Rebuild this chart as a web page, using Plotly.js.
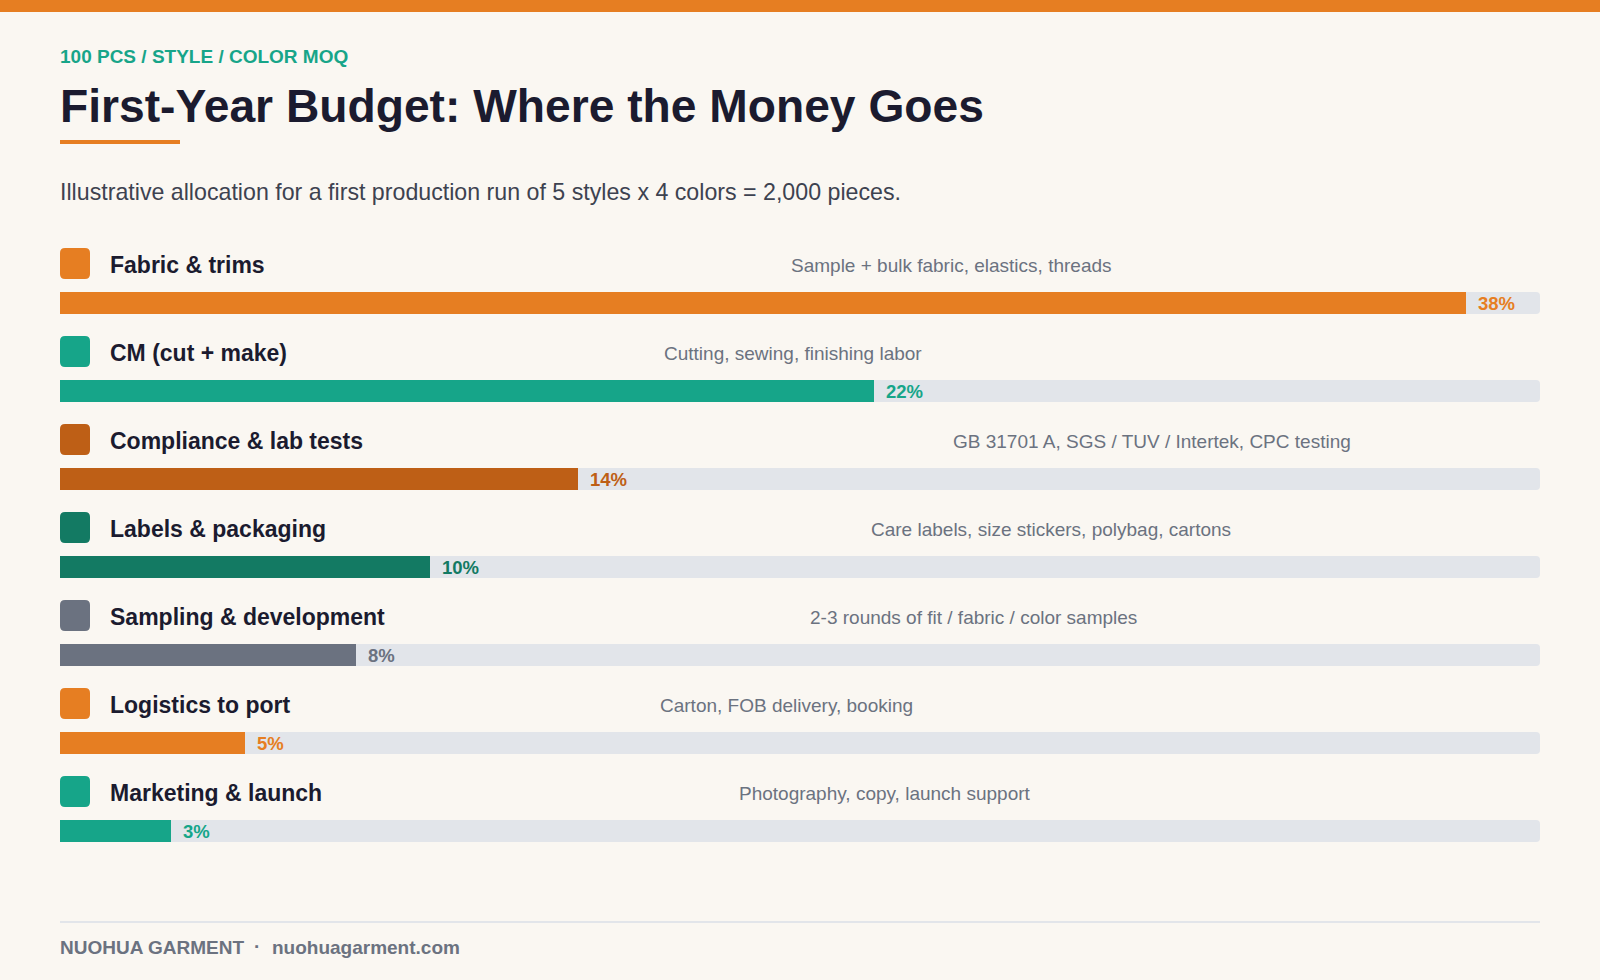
<!DOCTYPE html>
<html>
<head>
<meta charset="utf-8">
<script src="https://cdn.plot.ly/plotly-3.0.1.min.js"></script>
<style>
  html, body { margin: 0; padding: 0; background: #FAF7F2; }
  #chart { width: 1600px; height: 980px; }
</style>
</head>
<body>
<div id="chart"></div>
<script>
// Budget categories and their share of the first-year spend (%)
const categories = [
  'Fabric & trims',
  'CM (cut + make)',
  'Compliance & lab tests',
  'Labels & packaging',
  'Sampling & development',
  'Logistics to port',
  'Marketing & launch'
];
const shares = [38, 22, 14, 10, 8, 5, 3];
const notes = [
  'Sample + bulk fabric, elastics, threads',
  'Cutting, sewing, finishing labor',
  'GB 31701 A, SGS / TUV / Intertek, CPC testing',
  'Care labels, size stickers, polybag, cartons',
  '2-3 rounds of fit / fabric / color samples',
  'Carton, FOB delivery, booking',
  'Photography, copy, launch support'
];
const scaleMax = 40;

// Presentation settings
const barColors = ['#E67E22', '#16A589', '#BE5F16', '#137A63', '#6B7280', '#E67E22', '#16A589'];
const noteCenters = [952, 793, 1152, 1051, 973, 786, 885]; // px across the page
const W = 1600, H = 980;
const LEFT = 60, RIGHT = 1540;
const ROW0 = 303, ROW_STEP = 88;     // px: first bar centre and row pitch
const BAR_PX = 22;
const TXT_X = 58;                    // left edge of left-aligned text

const FONT = 'Liberation Sans, Arial, Helvetica, sans-serif';
const px2x = px => (px - LEFT) / (RIGHT - LEFT);   // page px -> paper x
const py2y = py => 1 - py / H;                      // page px -> paper y
const rows = categories.map((_, i) => i);

// Track (full scale) and filled share bars
const track = {
  type: 'bar', orientation: 'h',
  x: rows.map(() => scaleMax), y: rows,
  width: BAR_PX / ROW_STEP,
  marker: { color: '#E2E5EA', cornerradius: 4 },
  hoverinfo: 'skip', showlegend: false
};
const fill = {
  type: 'bar', orientation: 'h',
  x: shares, y: rows,
  width: BAR_PX / ROW_STEP,
  marker: { color: barColors, cornerradius: 4 },
  hoverinfo: 'skip', showlegend: false
};

const annotations = [];
const shapes = [];

// Orange band across the top
shapes.push({ type: 'rect', xref: 'paper', yref: 'paper', x0: px2x(0), x1: px2x(W), y0: py2y(0), y1: py2y(12),
  fillcolor: '#E67E22', line: { width: 0 } });
// Accent under the headline
shapes.push({ type: 'rect', xref: 'paper', yref: 'paper', x0: px2x(60), x1: px2x(180), y0: py2y(140), y1: py2y(144),
  fillcolor: '#E67E22', line: { width: 0 } });
// Footer rule
shapes.push({ type: 'line', xref: 'paper', yref: 'paper', x0: 0, x1: 1, y0: py2y(922), y1: py2y(922),
  line: { color: '#E2E5EA', width: 2 } });

function text(str, xpx, ypx, size, color, weight, anchor) {
  annotations.push({
    text: str, xref: 'paper', yref: 'paper', x: px2x(xpx), y: py2y(ypx),
    xanchor: anchor || 'left', yanchor: 'middle', showarrow: false,
    font: { family: FONT, size: size, color: color, weight: weight || 400 }
  });
}

text('100 PCS / STYLE / COLOR MOQ', TXT_X, 56, 19, '#17A589', 700);
text('First-Year Budget: Where the Money Goes', TXT_X, 106, 46.2, '#1B1B2F', 700);
text('Illustrative allocation for a first production run of 5 styles x 4 colors = 2,000 pieces.', TXT_X, 191.5, 23.2, '#3D4250', 400);

text('NUOHUA GARMENT', TXT_X, 947, 19, '#6B7280', 700);
text('·', 257, 946, 19, '#6B7280', 700, 'center');
text('nuohuagarment.com', 270, 947, 19, '#6B7280', 700);

// Rounded swatch path (x in paper, y in data units)
function roundRect(x0, x1, y0, y1, rx, ry) {
  return `M${x0 + rx},${y0} L${x1 - rx},${y0} Q${x1},${y0} ${x1},${y0 + ry} ` +
         `L${x1},${y1 - ry} Q${x1},${y1} ${x1 - rx},${y1} L${x0 + rx},${y1} ` +
         `Q${x0},${y1} ${x0},${y1 - ry} L${x0},${y0 + ry} Q${x0},${y0} ${x0 + rx},${y0} Z`;
}

const pxW = 1 / (RIGHT - LEFT);   // one px in paper x
const pxH = 1 / ROW_STEP;         // one px in y units

rows.forEach(i => {
  // colour swatch
  shapes.push({
    type: 'path', xref: 'paper', yref: 'y',
    path: roundRect(0, 30 * pxW, i - 55 * pxH, i - 24 * pxH, 5 * pxW, 5 * pxH),
    fillcolor: barColors[i], line: { width: 0 }
  });
  // category name
  annotations.push({
    text: categories[i], xref: 'paper', yref: 'y', x: px2x(108), y: i - 38 * pxH,
    xanchor: 'left', yanchor: 'middle', showarrow: false,
    font: { family: FONT, size: 23, color: '#1B1B2F', weight: 700 }
  });
  // description
  annotations.push({
    text: notes[i], xref: 'paper', yref: 'y', x: px2x(noteCenters[i]), y: i - 38 * pxH,
    xanchor: 'center', yanchor: 'middle', showarrow: false,
    font: { family: FONT, size: 19, color: '#6B7280', weight: 400 }
  });
  // share value at the end of the bar
  annotations.push({
    text: shares[i] + '%', xref: 'x', yref: 'y', x: shares[i], y: i,
    xanchor: 'left', yanchor: 'middle', xshift: 10, showarrow: false,
    font: { family: FONT, size: 18.5, color: barColors[i], weight: 700 }
  });
});

const layout = {
  width: W, height: H,
  margin: { l: LEFT, r: W - RIGHT, t: 0, b: 0, pad: 0 },
  paper_bgcolor: '#FAF7F2', plot_bgcolor: 'rgba(0,0,0,0)',
  barmode: 'overlay',
  showlegend: false,
  xaxis: { range: [0, scaleMax], visible: false, fixedrange: true },
  yaxis: { range: [(H - ROW0) / ROW_STEP, -ROW0 / ROW_STEP], visible: false, fixedrange: true },
  shapes: shapes,
  annotations: annotations
};

Plotly.newPlot('chart', [track, fill], layout, { staticPlot: true, displayModeBar: false });
</script>
</body>
</html>
